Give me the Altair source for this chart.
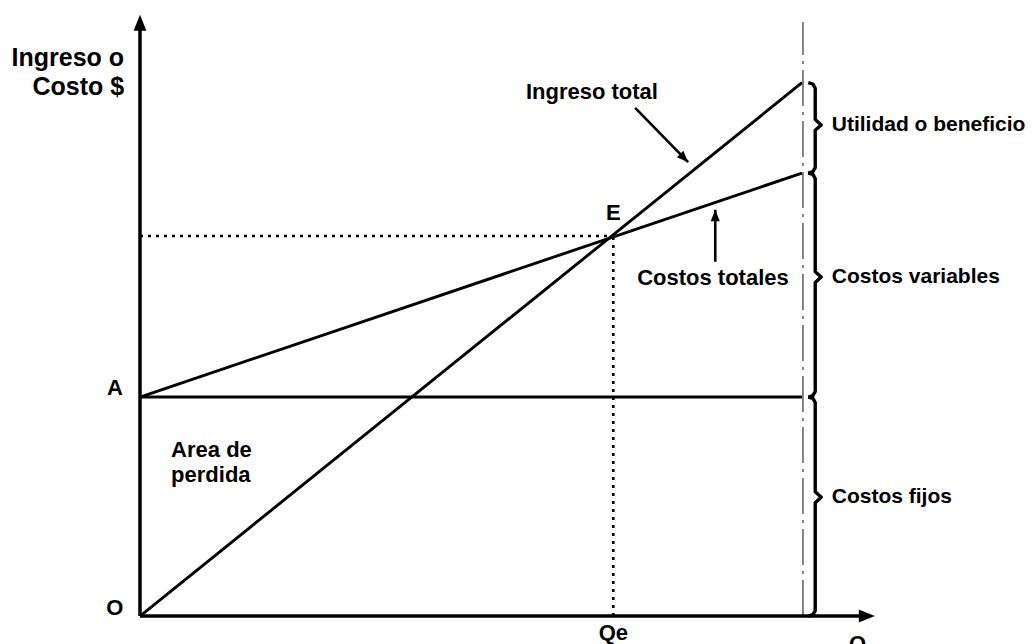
import altair as alt
import pandas as pd

# ---- values (Q units on x, $ units on y) ----
q_max = 100.0          # end of the drawn lines
q_e = 71.5             # break-even quantity Qe
fixed_cost = 40.0      # point A
revenue_end = 97.4     # total revenue at q_max
cost_end = 80.9        # total cost at q_max
e_value = 69.4         # $ value at E
guide_top = 108.5      # top of dash-dot guide
x_axis_end = 111.0
y_axis_end = 109.8
brace_x = 102.0
brace_bounds = [0.0, 40.0, 80.9, 97.4]
brace_tips = [21.7, 61.9, 89.7]
brace_labels = ["Costos fijos", "Costos variables", "Utilidad o beneficio"]

# label anchors (data units)
axis_title = ["Ingreso o", "Costo $"]
axis_title_x = [-2.4, -2.4]
axis_title_y = [101.9, 96.6]
point_labels = ["A", "O", "Qe", "Q", "E"]
point_label_x = [-3.8, -3.8, 71.5, 108.4, 71.5]
point_label_y = [41.6, 1.5, -3.1, -5.2, 73.6]
left_labels = ["Ingreso total", "Costos totales", "Area de", "perdida"]
left_label_x = [58.3, 75.1, 4.7, 4.7]
left_label_y = [95.7, 61.7, 30.3, 25.8]
right_label_x = 104.5

# pointer arrows: start -> tip
ptr_x = [74.8, 86.9]
ptr_y = [92.8, 64.7]
ptr_x2 = [82.8, 86.9]
ptr_y2 = [82.9, 74.2]
ptr_angle = [135.5, 0.0]

X_DOMAIN = [-19.94, 133.69]
Y_DOMAIN = [-5.11, 111.05]

xs = alt.Scale(domain=X_DOMAIN)
ys = alt.Scale(domain=Y_DOMAIN)
FONT = "Liberation Sans"


def seg_layer(df, **mark):
    return alt.Chart(df).mark_rule(color="black", **mark).encode(
        x=alt.X("x:Q", scale=xs, axis=None),
        y=alt.Y("y:Q", scale=ys, axis=None),
        x2="x2:Q",
        y2="y2:Q",
    )


axes_df = pd.DataFrame({
    "x": [0.0, 0.0], "y": [0.0, 0.0],
    "x2": [0.0, x_axis_end - 1.5], "y2": [y_axis_end - 2.0, 0.0],
})
lines_df = pd.DataFrame({
    "x": [0.0, 0.0, 0.0], "y": [0.0, fixed_cost, fixed_cost],
    "x2": [q_max, q_max, q_max], "y2": [revenue_end, cost_end, fixed_cost],
})
dotted_df = pd.DataFrame({
    "x": [0.0, q_e], "y": [e_value, 0.0],
    "x2": [q_e, q_e], "y2": [e_value, e_value],
})
guide_df = pd.DataFrame({
    "x": [q_max + 0.15], "y": [0.0], "x2": [q_max + 0.15], "y2": [guide_top],
})
ptr_df = pd.DataFrame({"x": ptr_x, "y": ptr_y, "x2": ptr_x2, "y2": ptr_y2})

axes = seg_layer(axes_df, strokeWidth=3.5)
lines = seg_layer(lines_df, strokeWidth=2.9)
dotted = seg_layer(dotted_df, strokeWidth=2.6, strokeDash=[3, 5])
guide = seg_layer(guide_df, strokeWidth=1.3, strokeDash=[36, 6, 3, 6]).encode(
    color=alt.value("#444444"))
pointers = seg_layer(ptr_df, strokeWidth=2.6)

# arrowheads (tip at the anchor point)
heads_df = pd.DataFrame({
    "x": [0.0, x_axis_end] + ptr_x2,
    "y": [y_axis_end, 0.0] + ptr_y2,
    "angle": [0.0, 90.0] + ptr_angle,
    "size": [256, 256, 130, 130],
})
heads = alt.Chart(heads_df).mark_point(
    shape="M0,0L-0.8,2L0.8,2Z", filled=True, color="black", opacity=1
).encode(
    x=alt.X("x:Q", scale=xs, axis=None),
    y=alt.Y("y:Q", scale=ys, axis=None),
    angle=alt.Angle("angle:Q", scale=None),
    size=alt.Size("size:Q", scale=None, legend=None),
)

# braces
rows = []
for i in range(3):
    lo, hi, tip = brace_bounds[i], brace_bounds[i + 1], brace_tips[i]
    pts = [
        (brace_x - 1.05, hi), (brace_x - 0.35, hi - 0.25), (brace_x, hi - 1.0),
        (brace_x, tip + 1.0), (brace_x + 0.9, tip), (brace_x, tip - 1.0),
        (brace_x, lo + 1.0), (brace_x - 0.35, lo + 0.25), (brace_x - 1.05, lo),
    ]
    for k, (px, py) in enumerate(pts):
        rows.append({"b": i, "o": k, "x": px, "y": py})
brace_df = pd.DataFrame(rows)
braces = alt.Chart(brace_df).mark_line(
    color="black", strokeWidth=3.4, strokeJoin="round"
).encode(
    x=alt.X("x:Q", scale=xs, axis=None),
    y=alt.Y("y:Q", scale=ys, axis=None),
    detail="b:N",
    order="o:Q",
)


def text_layer(df, size, align):
    return alt.Chart(df).mark_text(
        font=FONT, fontWeight="bold", fontSize=size, align=align,
        baseline="middle", color="black",
    ).encode(
        x=alt.X("x:Q", scale=xs, axis=None),
        y=alt.Y("y:Q", scale=ys, axis=None),
        text="t:N",
    )


title_txt = text_layer(pd.DataFrame({"t": axis_title, "x": axis_title_x, "y": axis_title_y}), 25, "right")
point_txt = text_layer(pd.DataFrame({"t": point_labels, "x": point_label_x, "y": point_label_y}), 22, "center")
left_txt = text_layer(pd.DataFrame({"t": left_labels, "x": left_label_x, "y": left_label_y}), 22, "left")
right_txt = text_layer(pd.DataFrame({"t": brace_labels, "x": [right_label_x] * 3, "y": brace_tips}), 21, "left")

chart = alt.layer(
    guide, dotted, lines, axes, pointers, heads, braces,
    title_txt, point_txt, left_txt, right_txt,
).properties(
    width=1017, height=636, padding=0, background="white",
    autosize=alt.AutoSizeParams(type="none"),
).configure_view(strokeWidth=0, stroke=None)

chart.save("out.html", embed_options={"renderer": "svg", "actions": False})
